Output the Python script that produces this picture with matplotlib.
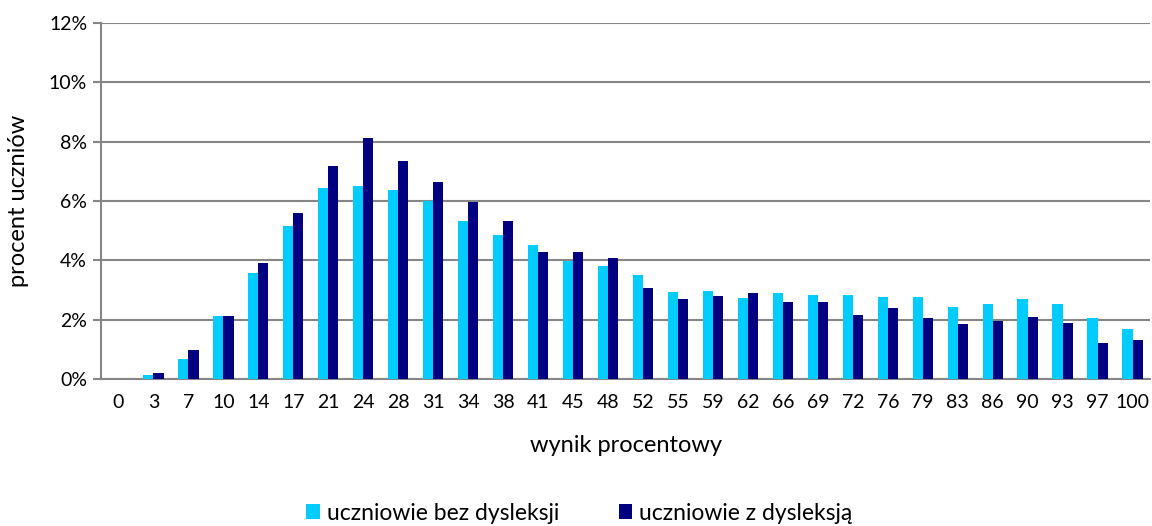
import matplotlib
matplotlib.use("Agg")
import matplotlib.pyplot as plt
import numpy as np
from matplotlib.ticker import FuncFormatter

plt.rcParams['font.family'] = ['Lato', 'DejaVu Sans']

categories = ["0", "3", "7", "10", "14", "17", "21", "24", "28", "31", "34", "38", "41", "45", "48",
              "52", "55", "59", "62", "66", "69", "72", "76", "79", "83", "86", "90", "93", "97", "100"]
bez_dysleksji = [0.00, 0.15, 0.67, 2.11, 3.56, 5.17, 6.45, 6.49, 6.36, 6.01, 5.34, 4.84, 4.53, 3.97, 3.82,
                 3.49, 2.94, 2.98, 2.73, 2.91, 2.82, 2.84, 2.75, 2.75, 2.43, 2.52, 2.71, 2.54, 2.07, 1.70]
z_dysleksja = [0.00, 0.21, 0.98, 2.11, 3.92, 5.60, 7.18, 8.12, 7.35, 6.65, 5.97, 5.34, 4.29, 4.29, 4.07,
               3.08, 2.69, 2.79, 2.91, 2.58, 2.58, 2.15, 2.40, 2.07, 1.86, 1.94, 2.08, 1.90, 1.23, 1.33]
series_names = ["uczniowie bez dysleksji", "uczniowie z dysleksją"]
y_ticks = [0, 2, 4, 6, 8, 10, 12]

fig = plt.figure(figsize=(11.52, 5.26), dpi=100)
ax = fig.add_axes([101/1152, 1 - 379/526, (1150-101)/1152, (379-23)/526])

x = np.arange(len(categories))
w = 0.29
ax.bar(x - w/2, bez_dysleksji, width=w, color="#00CCFF", label=series_names[0], zorder=3)
ax.bar(x + w/2, z_dysleksja, width=w, color="#000080", label=series_names[1], zorder=3)

ax.set_xlim(-0.5, len(categories) - 0.5)
ax.set_ylim(0, 12)
ax.set_yticks(y_ticks)
ax.yaxis.set_major_formatter(FuncFormatter(lambda v, p: f"{v:.0f}%"))
ax.set_xticks(x)
ax.set_xticklabels(categories)
ax.yaxis.grid(True, color="#868686", linewidth=1.5, zorder=0)
ax.set_axisbelow(True)
for s in ["top", "right"]:
    ax.spines[s].set_visible(False)
for s in ["left", "bottom"]:
    ax.spines[s].set_color("#868686")
    ax.spines[s].set_linewidth(1.5)
ax.tick_params(axis="y", length=6, width=1.5, color="#868686", labelsize=14, pad=4)
ax.tick_params(axis="x", length=0, labelsize=14, pad=11)
ax.set_xlabel("wynik procentowy", fontsize=17, labelpad=17)
ax.set_ylabel("procent uczniów", fontsize=17, labelpad=14)

fig.legend(loc="lower center", bbox_to_anchor=(0.503, -0.035), ncol=2, frameon=False,
           fontsize=16.5, handlelength=0.6, handleheight=0.6, handletextpad=0.3, columnspacing=2.6)

fig.savefig("out.png", dpi=100)
